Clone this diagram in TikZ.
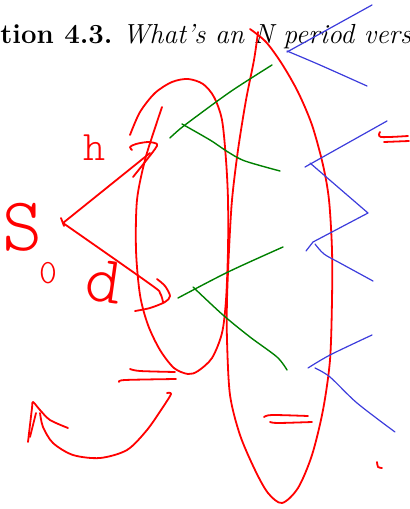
\documentclass[tikz,border=0pt]{standalone}
\usepackage{fontspec}
\usepackage{tikz}
\newfontfamily\penfont{lmmonolt10-regular.otf}
\definecolor{pen_red}{RGB}{255,0,0}
\definecolor{pen_green}{RGB}{0,128,0}
\definecolor{pen_blue}{RGB}{60,60,220}

\begin{document}
\begin{tikzpicture}[x=0.5pt,y=-0.5pt,
          ink/.style={line cap=round, line join=round},
          rd/.style={ink, pen_red, line width=0.9pt},
          gr/.style={ink, pen_green, line width=0.7pt},
          bl/.style={ink, pen_blue, line width=0.6pt},
          hand/.style={pen_red, inner sep=0pt}]
        \useasboundingbox (0,0) rectangle (410,509);
        % printed heading, cut at both sides
        \node[anchor=base west, inner sep=0pt, font=\fontsize{13.8}{16}\selectfont] (head) at (0,43)
          {{\bfseries tion 4.3.}\hspace{5pt}{\itshape What's an N period vers}};
        % handwritten labels
        \node[hand, font=\penfont\fontsize{38}{38}\selectfont] (s) at (22,227) {S};
        \node[hand, font=\penfont\fontsize{17}{17}\selectfont] (zero) at (48,273) {0};
        \node[hand, font=\penfont\fontsize{21}{21}\selectfont] (h) at (95,148) {h};
        \node[hand, font=\penfont\fontsize{34}{34}\selectfont, rotate=-8] (d) at (104,282) {d};
        % first step
        \coordinate (root) at (63,223);
        \coordinate (up) at (150,153);
        \draw[rd] (root) -- (up);
        \draw[rd] (61,218) -- (64,226);
        \draw[rd] plot[smooth] coordinates {(133,177) (145,162) (155,149) (157,144) (148,142) (136,144) (130,147) (132,150)};
        \draw[rd] plot[smooth] coordinates {(63,223) (150,284) (160,293) (163,302)};
        \draw[rd] plot[smooth] coordinates {(157,279) (165,286) (170,296) (165,302) (150,308) (135,311)};
        % loop round the first nodes
        \draw[rd] plot[smooth] coordinates {(130,135) (140,112) (155,93) (172,82) (188,79) (203,84) (214,97)
          (222,120) (226,160) (228,200) (228,250) (226,300) (222,333) (212,358) (198,371) (188,374)
          (174,368) (160,350) (148,325) (140,295) (136,250) (137,200) (145,160) (155,128) (162,107)};
        % loop round the second nodes
        \draw[rd] plot[smooth] coordinates {(250,29) (266,42) (282,64) (298,92) (312,125) (323,165) (329,200)
          (332,250) (332,300) (330,360) (323,410) (312,455) (298,488) (282,503) (268,493) (255,470)
          (240,435) (230,395) (227,340) (227,300) (229,250) (232,200) (238,150) (246,100) (254,60) (258,32)};
        % equal marks
        \draw[rd] plot[smooth] coordinates {(130,369) (140,371) (175,372)};
        \draw[rd] plot[smooth] coordinates {(119,382) (125,380) (176,379)};
        \draw[rd] plot[smooth] coordinates {(264,417) (272,415) (308,416)};
        \draw[rd] plot[smooth] coordinates {(270,422) (278,423) (312,422)};
        \draw[rd] plot[smooth] coordinates {(380,132) (381,137) (408,136)};
        \draw[rd] (384,142) -- (409,141);
        \draw[rd] plot[smooth] coordinates {(377,462) (378,467) (382,468)};
        % curved arrow back
        \draw[rd] plot[smooth] coordinates {(167,393) (171,394) (163,407) (147,430) (127,450) (100,458)
          (73,455) (53,443) (43,427) (40,413)};
        \draw[rd] plot[smooth] coordinates {(68,428) (50,420) (40,410) (33,402) (32,408) (28,442)};
        \draw[rd] (36,413) -- (30,437);
        % second step
        \draw[gr] plot[smooth] coordinates {(272,65) (230,92) (185,125) (172,136) (170,138)};
        \draw[gr] plot[smooth] coordinates {(182,124) (210,140) (228,152) (245,161) (280,171)};
        \draw[gr] plot[smooth] coordinates {(283,247) (228,272) (178,298)};
        \draw[gr] plot[smooth] coordinates {(193,287) (223,315) (250,337) (277,357) (287,370)};
        % third step
        \draw[bl] (372,5) -- (287,52);
        \draw[bl] plot[smooth] coordinates {(287,51) (320,65) (367,86)};
        \draw[bl] (387,121) -- (305,167);
        \draw[bl] (310,163) -- (368,213) -- (313,242) -- (306,251);
        \draw[bl] plot[smooth] coordinates {(315,244) (324,254) (340,263) (373,281)};
        \draw[bl] plot[smooth] coordinates {(372,335) (330,355) (308,368)};
        \draw[bl] plot[smooth] coordinates {(315,368) (330,377) (357,403) (395,432)};
\end{tikzpicture}
\end{document}
